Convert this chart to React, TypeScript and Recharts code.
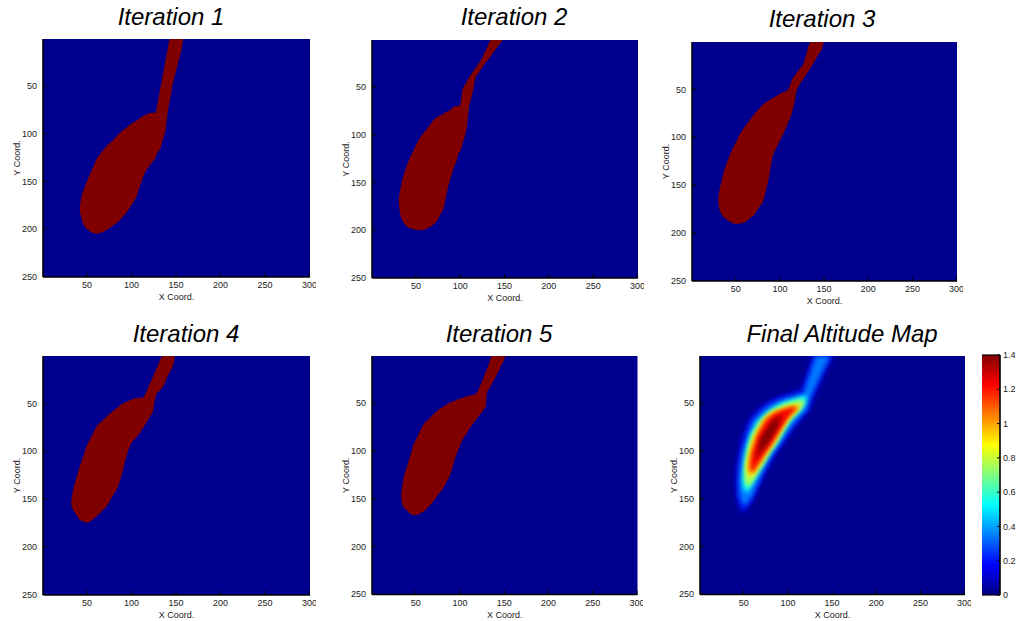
import React from 'react';
import { ComposedChart, Area, XAxis, YAxis, CartesianGrid } from 'recharts';

// each slice: [x, upper edge y, lower edge y] of a filled region (image rows grow downward)
type Slice = [number, number, number];

const xTicks = [50, 100, 150, 200, 250, 300];
const yTicks = [50, 100, 150, 200, 250];
const scaleTicks = [0, 0.2, 0.4, 0.6, 0.8, 1, 1.2, 1.4];
const scaleRange: Slice[] = [
  [0, 0, 1.4],
  [1, 0, 1.4],
];

const iteration1: Slice[] = [
  [42, 176, 182], [43, 170, 186], [45, 162, 193], [47, 157, 197], [50, 150, 200],
  [55, 139, 203.5], [60, 128, 205], [66, 120, 204], [72, 113, 201], [80, 106, 196],
  [87, 99, 190.5], [95, 93, 182], [102, 88, 172], [106, 86, 165], [109, 84, 156],
  [112, 82, 148], [115, 80.5, 141], [120, 78.5, 134], [124, 78, 129], [127, 78, 125],
  [129, 69, 120], [132, 54, 116], [135, 39, 107], [138, 24, 97], [141, 9, 75],
  [143, 0.5, 65], [147, 0.5, 45], [150, 0.5, 34], [153, 0.5, 23], [156, 0.5, 12],
  [158, 0.5, 1],
];

const iteration2: Slice[] = [
  [30.8, 166, 172], [32, 160, 182], [35, 146, 190.5], [38, 137, 194.5], [42, 127, 197.5],
  [48, 115, 199.5], [55, 103, 200.3], [62, 94.5, 198.8], [68, 87, 195.5], [74, 81.5, 190],
  [78, 79.5, 183], [81.6, 77.5, 176], [84, 76, 165], [87, 75, 152], [90, 73, 143],
  [93, 70.5, 134], [96, 70, 127], [98.5, 70, 119], [100, 68, 117.6], [101.5, 60, 113],
  [102.5, 53, 110], [105, 48, 102], [108, 43, 89], [110, 40, 71], [112, 37, 63],
  [115, 33, 51.5], [117.3, 30, 39.5], [120, 26, 36], [123, 22, 32], [128, 12.5, 25],
  [131, 7, 21.5], [134, 1, 18], [137, 0.5, 14], [143, 0.5, 6.5], [147.4, 0.5, 1],
];

const iteration3: Slice[] = [
  [30.4, 163, 170], [31.5, 156, 175], [34, 146, 180.5], [38, 131.5, 185], [42, 122, 187.5],
  [45.5, 114, 189.5], [51, 104, 190.8], [55, 96.5, 190.3], [60.5, 89, 189], [66, 82, 184.8],
  [71.8, 75.3, 180.3], [77, 69.8, 172.7], [81.3, 65.3, 166.4], [84, 63.7, 156.3], [86.9, 62, 145.5],
  [90.7, 59.8, 124.6], [96.3, 56.6, 110.6], [100, 54.8, 103.8], [103.9, 53, 96.5], [107.6, 52, 88.9],
  [109.5, 49.7, 84.5], [113.3, 41, 75.8], [115.2, 37.5, 68.6], [117, 35.3, 62], [118.5, 33.4, 53.4],
  [122.7, 28.2, 44.4], [126.5, 23.5, 39.1], [130, 13.1, 34.3], [134, 1.2, 28.7], [138, 0.5, 22.4],
  [143, 0.5, 14.5], [148.3, 0.5, 6], [149.5, 0.5, 1],
];

const iteration4: Slice[] = [
  [32.4, 151, 157], [34.3, 141, 161.5], [36.2, 133.6, 164.2], [38.5, 126.5, 167.4], [41.8, 116.2, 172],
  [45.5, 105.9, 173.4], [49.3, 95.3, 175.2], [53, 88.4, 174], [56.5, 81.9, 171.4], [60.5, 74.4, 168.5],
  [66, 69.3, 163.3], [71.7, 64, 158], [78, 58.7, 148], [84.8, 54, 137.1], [90.4, 50, 119.7],
  [94.2, 48.5, 105.7], [99.8, 46.3, 91.8], [103.5, 44.8, 87.7], [109.1, 44.1, 81.4], [112.9, 43.7, 75.7],
  [116.6, 37.8, 70.2], [118.5, 33.8, 67.4], [121, 28.6, 63.3], [124.1, 22.1, 58.3], [125.5, 19, 50],
  [128, 13.7, 40.2], [131, 7.3, 37], [133.5, 1.9, 34.5], [135.3, 0.5, 32.6], [139, 0.5, 25],
  [143, 0.5, 17], [147.3, 0.5, 8.2], [148.4, 0.5, 1.9],
];

const iteration5: Slice[] = [
  [33.5, 143, 148], [34.5, 138, 155], [36.4, 127.6, 159], [40, 116.5, 162.4], [44, 104.2, 166],
  [47.7, 92.7, 167.2], [51, 86.6, 167.2], [55, 79.1, 165.3], [59, 71.7, 163.5], [64, 67.1, 159.1],
  [70.3, 61.2, 152.1], [76, 56.6, 145], [81.6, 53.4, 138.1], [85.5, 51.1, 130.9], [89.2, 49, 124.1],
  [92, 48, 115.3], [94.8, 47.1, 106.6], [98.5, 45.7, 98], [102.3, 44.4, 89.2], [107, 43, 82.2],
  [111.7, 41.8, 75.2], [115.5, 40.9, 70.5], [118.5, 39.5, 66.8], [121.2, 35, 63.4], [123, 31, 61.2],
  [126.8, 22.7, 56.5], [128.7, 18.1, 54.2], [129.8, 15.5, 45], [130.6, 13.5, 38.5], [133, 7.7, 34.6],
  [136.2, 0.5, 29.4], [138.1, 0.5, 26.2], [143, 0.5, 17.1], [147, 0.5, 9.7], [149.4, 0.5, 5.2],
  [151.3, 0.5, 0.5],
];

// altitude contours, outermost (lowest level) first
const alt008: Slice[] = [
  [40.5, 124, 142], [42, 112, 153], [44, 100, 159], [47, 88, 163], [51, 78, 164],
  [55, 69, 160], [60, 62, 153], [65, 57, 143], [70, 53, 133], [78, 48, 118],
  [86, 44, 105], [95, 41, 93], [104, 38, 81], [112, 36, 71], [115, 34, 68],
  [117, 29, 65], [120, 21, 62], [124, 10, 58], [127, 3, 51], [128, 0.5, 48],
  [130, 0.5, 43], [136, 0.5, 31], [142, 0.5, 19], [148, 0.5, 7], [152, 0.5, 0.5],
];

const alt025: Slice[] = [
  [44.5, 128, 141], [45.8, 116, 149], [48, 103, 154], [52, 90, 157], [56, 79, 152],
  [60, 69, 147], [65, 64, 136], [70, 59, 126], [78, 53, 111], [86, 49, 99],
  [95, 45.5, 87], [104, 43.5, 75], [112, 41, 66], [117, 40, 61], [122, 27, 55],
  [125, 19, 45], [128, 11, 39], [132, 0.5, 31], [137, 0.5, 21], [142, 0.5, 11],
  [148, 0.5, 0.5],
];

const alt050: Slice[] = [
  [48.8, 126, 136], [50, 116, 140], [51.5, 106, 142], [54.5, 92, 143], [58, 82, 138],
  [62, 75, 131], [66, 68.5, 124], [72, 63, 114], [80, 56.5, 102], [88, 52, 92],
  [96, 48.5, 79], [104, 46, 67.5], [112, 43.7, 60.5], [118, 42.5, 53.5], [121.5, 43.5, 45.5],
];

const alt070: Slice[] = [
  [51, 118, 130], [52.5, 108, 135], [55.5, 95, 137], [60, 83, 132], [64, 76, 126],
  [68, 70, 120], [74, 64, 111], [80, 59, 101], [88, 55, 90], [96, 51, 77],
  [104, 49, 66], [110, 47.5, 60], [116, 47, 54], [118.5, 47.5, 50],
];

const alt085: Slice[] = [
  [53.5, 114, 122], [55, 107, 125], [57, 98, 127], [60, 88, 126], [63, 82, 122],
  [67, 76, 116], [72, 68, 109], [78, 62, 100], [85, 58, 91], [92, 56, 80],
  [98, 54, 70.5], [104, 52.5, 64], [110, 51.5, 58.5], [114, 52, 53],
];

const alt100: Slice[] = [
  [56, 112, 121], [58, 102, 123], [61, 93, 122], [64, 85, 119], [68, 77, 113],
  [74, 67, 104], [80, 62, 96], [86, 59, 87], [92, 57, 77], [98, 55, 68.5],
  [104, 53.5, 61.5], [108, 53, 58], [112, 53.5, 54.5],
];

const alt115: Slice[] = [
  [58.5, 112, 120], [60, 103, 121], [62, 97, 118.5], [65, 87, 114], [70, 78, 107],
  [76, 69, 99], [82, 64, 91], [88, 60, 82], [94, 57.5, 73], [100, 56, 64.5],
  [104, 55, 60], [106, 55, 58.5], [109, 55.5, 56.5],
];

const alt132: Slice[] = [
  [64, 103, 107], [66, 98, 107], [70, 86, 101], [75, 79, 94], [80, 71, 87],
  [85, 66, 79], [90, 63, 72], [93, 63, 66],
];

const alt138: Slice[] = [
  [68, 92, 100], [72, 84, 97], [77, 77, 91], [82, 71, 84], [86, 68, 77], [88, 68, 72],
];

const BG = '#00008F';
const BLOB = '#800000';
const YW = 42;
const XH = 26;
const PAD_TOP = 4;
const PAD_RIGHT = 6;

const tickFont = { fontSize: 9, fill: '#222', fontFamily: '"Liberation Sans", Arial, sans-serif' };
const frameStroke = { stroke: '#000', strokeWidth: 1.6 };
const tickStroke = { stroke: '#000', strokeWidth: 1 };

const toRows = (slices: Slice[]) => slices.map(([x, top, bottom]) => ({ x, span: [top, bottom] }));

const altitudeLayers = [
  { rows: alt008, fill: '#000AE4' },
  { rows: alt025, fill: '#0078FF' },
  { rows: alt050, fill: '#10FFEF' },
  { rows: alt070, fill: '#B3FF4D' },
  { rows: alt085, fill: '#FFE000' },
  { rows: alt100, fill: '#FF7100' },
  { rows: alt115, fill: '#F80000' },
  { rows: alt132, fill: '#A80000' },
  { rows: alt138, fill: '#860000' },
];

interface Box {
  left: number;
  top: number;
  w: number;
  h: number;
}

interface PanelProps {
  box: Box;
  title: string;
  titleX: number;
  titleY: number;
  children: React.ReactNode;
}

function MapPanel({ box, title, titleX, titleY, children }: PanelProps) {
  return (
    <>
      <div
        style={{
          position: 'absolute',
          left: titleX - 150,
          top: titleY,
          width: 300,
          textAlign: 'center',
          fontStyle: 'italic',
          fontSize: 24,
          lineHeight: '24px',
          color: '#000',
        }}
      >
        {title}
      </div>
      <div style={{ position: 'absolute', left: box.left - YW, top: box.top - PAD_TOP }}>
        <ComposedChart
          width={YW + box.w + PAD_RIGHT}
          height={PAD_TOP + box.h + XH}
          margin={{ top: PAD_TOP, right: PAD_RIGHT, bottom: 0, left: 0 }}
        >
          <CartesianGrid horizontal={false} vertical={false} fill={BG} fillOpacity={1} />
          <XAxis
            type="number"
            dataKey="x"
            domain={[0.5, 300.5]}
            ticks={xTicks}
            interval={0}
            allowDataOverflow
            height={XH}
            tickSize={-4}
            tickMargin={9}
            tick={tickFont}
            axisLine={frameStroke}
            tickLine={tickStroke}
            label={{ value: 'X Coord.', position: 'insideBottom', offset: 3, fontSize: 9, fill: '#222' }}
          />
          <XAxis
            xAxisId="top"
            orientation="top"
            type="number"
            dataKey="x"
            domain={[0.5, 300.5]}
            ticks={xTicks}
            interval={0}
            height={0}
            tickSize={-4}
            tick={false}
            axisLine={frameStroke}
            tickLine={tickStroke}
          />
          <YAxis
            type="number"
            reversed
            domain={[0.5, 250.5]}
            ticks={yTicks}
            interval={0}
            allowDataOverflow
            width={YW}
            tickSize={-4}
            tickMargin={10}
            tick={tickFont}
            axisLine={frameStroke}
            tickLine={tickStroke}
            label={{
              value: 'Y Coord.',
              angle: -90,
              position: 'insideLeft',
              offset: 16,
              fontSize: 9,
              fill: '#222',
              style: { textAnchor: 'middle' },
            }}
          />
          <YAxis
            yAxisId="right"
            orientation="right"
            type="number"
            reversed
            domain={[0.5, 250.5]}
            ticks={yTicks}
            interval={0}
            width={0}
            tickSize={-4}
            tick={false}
            axisLine={frameStroke}
            tickLine={tickStroke}
          />
          {children}
        </ComposedChart>
      </div>
    </>
  );
}

function blobArea(slices: Slice[], key: string, fill: string, filter?: string) {
  return (
    <Area
      key={key}
      data={toRows(slices)}
      dataKey="span"
      type="monotoneX"
      stroke="none"
      fill={fill}
      fillOpacity={1}
      filter={filter}
      dot={false}
      activeDot={false}
      isAnimationActive={false}
    />
  );
}

// colour scale: a single range area spanning 0..1.4, painted with the jet gradient
function ScaleBar() {
  return (
    <div style={{ position: 'absolute', left: 980, top: 350 }}>
      <ComposedChart width={38} height={250} margin={{ top: 5, right: 0, bottom: 5, left: 2 }}>
        <XAxis type="number" dataKey="x" domain={[0, 1]} hide />
        <YAxis
          yAxisId="inner"
          type="number"
          domain={[0, 1.4]}
          ticks={scaleTicks}
          interval={0}
          width={0}
          tickSize={-3}
          tick={false}
          axisLine={frameStroke}
          tickLine={tickStroke}
        />
        <YAxis
          orientation="right"
          type="number"
          domain={[0, 1.4]}
          ticks={scaleTicks}
          interval={0}
          width={18}
          tickSize={-3}
          tickMargin={6}
          tick={tickFont}
          axisLine={frameStroke}
          tickLine={tickStroke}
        />
        <Area
          data={toRows(scaleRange)}
          dataKey="span"
          type="linear"
          stroke="#000"
          strokeWidth={1.2}
          fill="url(#jetScale)"
          fillOpacity={1}
          dot={false}
          activeDot={false}
          isAnimationActive={false}
        />
      </ComposedChart>
    </div>
  );
}

export default function App() {
  return (
    <div
      style={{
        position: 'absolute',
        left: 0,
        top: 0,
        width: 1018,
        height: 621,
        background: '#fff',
        fontFamily: '"Liberation Sans", Arial, sans-serif',
      }}
    >
      <svg width={0} height={0} style={{ position: 'absolute' }}>
        <defs>
          <linearGradient id="jetScale" x1="0" y1="1" x2="0" y2="0">
            <stop offset="0" stopColor="#000080" />
            <stop offset="0.125" stopColor="#0000FF" />
            <stop offset="0.375" stopColor="#00FFFF" />
            <stop offset="0.625" stopColor="#FFFF00" />
            <stop offset="0.875" stopColor="#FF0000" />
            <stop offset="1" stopColor="#800000" />
          </linearGradient>
          <filter id="soften" x="-30%" y="-30%" width="160%" height="160%">
            <feGaussianBlur stdDeviation="2.3" />
          </filter>
        </defs>
      </svg>

      <MapPanel box={{ left: 43, top: 39, w: 267, h: 238 }} title="Iteration 1" titleX={171} titleY={5}>
        {blobArea(iteration1, 'it1', BLOB)}
      </MapPanel>
      <MapPanel box={{ left: 371.5, top: 39.5, w: 266, h: 238 }} title="Iteration 2" titleX={514} titleY={5}>
        {blobArea(iteration2, 'it2', BLOB)}
      </MapPanel>
      <MapPanel box={{ left: 692, top: 41.5, w: 265, h: 239 }} title="Iteration 3" titleX={822} titleY={7}>
        {blobArea(iteration3, 'it3', BLOB)}
      </MapPanel>
      <MapPanel box={{ left: 43, top: 356, w: 267, h: 239 }} title="Iteration 4" titleX={186} titleY={322}>
        {blobArea(iteration4, 'it4', BLOB)}
      </MapPanel>
      <MapPanel box={{ left: 371.5, top: 355.5, w: 265.5, h: 238.5 }} title="Iteration 5" titleX={499} titleY={322}>
        {blobArea(iteration5, 'it5', BLOB)}
      </MapPanel>
      <MapPanel box={{ left: 700, top: 355.5, w: 265, h: 238.5 }} title="Final Altitude Map" titleX={842} titleY={322}>
        {altitudeLayers.map((layer, i) => blobArea(layer.rows, `alt${i}`, layer.fill, 'url(#soften)'))}
      </MapPanel>
      <ScaleBar />
    </div>
  );
}
